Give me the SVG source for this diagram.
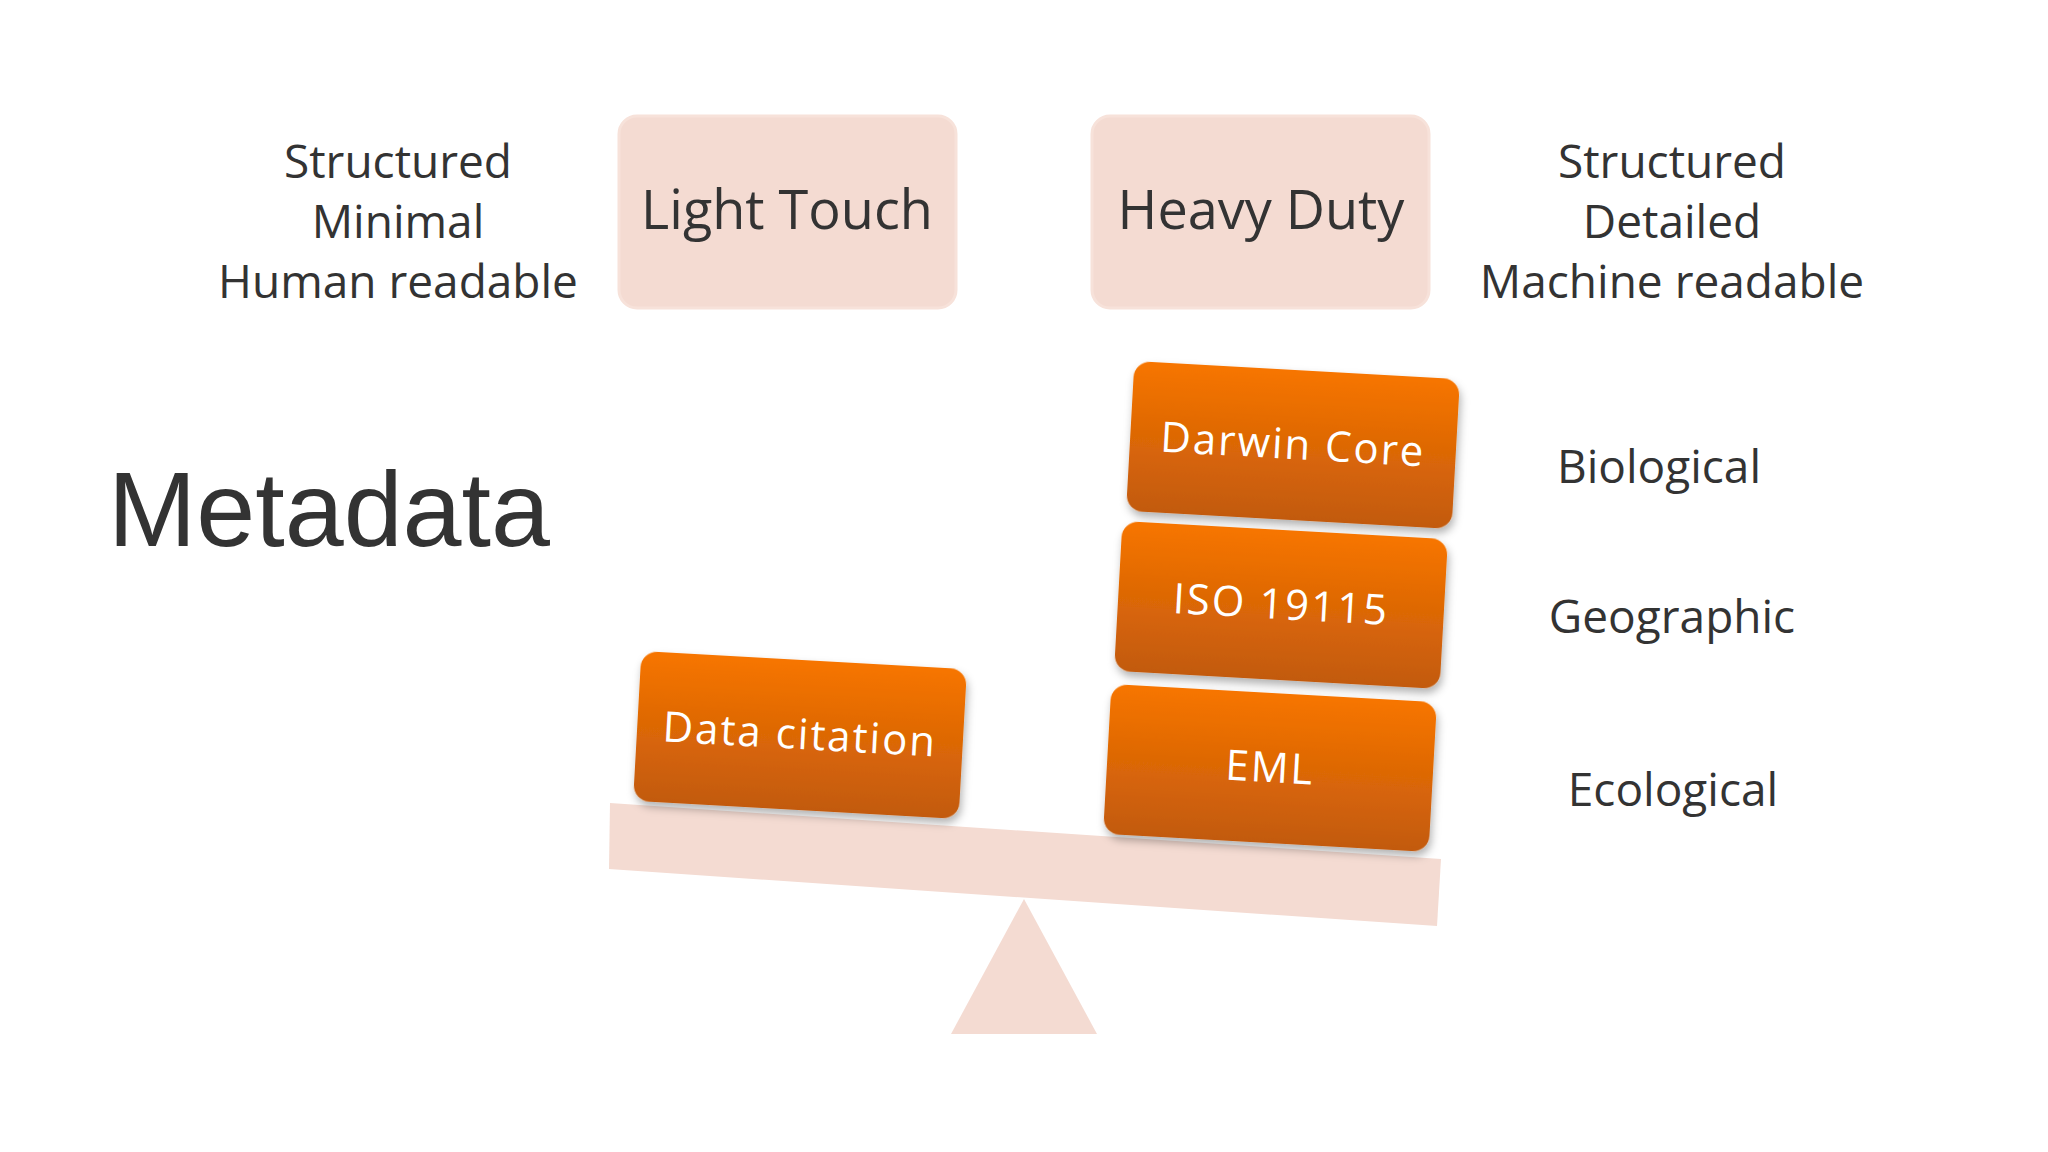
<svg xmlns="http://www.w3.org/2000/svg" width="2048" height="1152" viewBox="0 0 2048 1152">
<defs>
<linearGradient id="og" x1="0" y1="0" x2="0" y2="1"><stop offset="0" stop-color="#f77500"/><stop offset="1" stop-color="#c25a0c"/></linearGradient>
<filter id="sh" x="-10%" y="-10%" width="130%" height="140%"><feDropShadow dx="2" dy="5" stdDeviation="4" flood-color="#000" flood-opacity="0.3"/></filter>
</defs>
<style>
.t{font-family:"Open Sans","DejaVu Sans",sans-serif;fill:#333;text-anchor:middle}
.pk{fill:#f4dbd2;stroke:#f7e2da;stroke-width:3}
.ob{fill:url(#og);filter:url(#sh)}
.ot{font-family:"Open Sans","DejaVu Sans",sans-serif;fill:#fff;text-anchor:middle;font-size:42px;letter-spacing:2px}
</style>
<rect width="2048" height="1152" fill="#fff"/>
<g id="left-text"><text class="t" font-size="46" x="398" y="178">Structured</text><text class="t" font-size="46" x="398" y="238">Minimal</text><text class="t" font-size="46" x="398" y="298">Human readable</text></g>
<g id="right-text"><text class="t" font-size="46" x="1672" y="178">Structured</text><text class="t" font-size="46" x="1672" y="238">Detailed</text><text class="t" font-size="46" x="1672" y="298">Machine readable</text></g>
<g id="light"><rect class="pk" x="619" y="116" width="337" height="192" rx="18"/><text class="t" font-size="54" x="787" y="229">Light Touch</text></g>
<g id="heavy"><rect class="pk" x="1092" y="116" width="337" height="192" rx="18"/><text class="t" font-size="54" x="1261" y="229">Heavy Duty</text></g>
<text x="108" y="546" font-family="Liberation Sans,Arial,sans-serif" font-size="106" fill="#333">Metadata</text>
<g id="seesaw"><polygon points="610,803 1441,859 1437,926 609,869" fill="#f4dbd2"/><polygon points="1024,899 951,1034 1097,1034" fill="#f4dbd2"/></g>
<g id="darwin" transform="translate(1293,445) rotate(3.2)"><rect class="ob" x="-163" y="-75" width="326" height="150" rx="16"/><text class="ot" y="14">Darwin Core</text></g>
<g id="iso" transform="translate(1281,605) rotate(3.2)"><rect class="ob" x="-163" y="-75" width="326" height="150" rx="16"/><text class="ot" y="14">ISO 19115</text></g>
<g id="eml" transform="translate(1270,768) rotate(3.2)"><rect class="ob" x="-163" y="-75" width="326" height="150" rx="16"/><text class="ot" y="14">EML</text></g>
<g id="cite" transform="translate(800,735) rotate(3.2)"><rect class="ob" x="-163" y="-75" width="326" height="150" rx="16"/><text class="ot" y="14">Data citation</text></g>
<text class="t" font-size="46" x="1659" y="483">Biological</text>
<text class="t" font-size="46" x="1672" y="633">Geographic</text>
<text class="t" font-size="46" x="1673" y="806">Ecological</text>
<g id="connectors"/>
</svg>
